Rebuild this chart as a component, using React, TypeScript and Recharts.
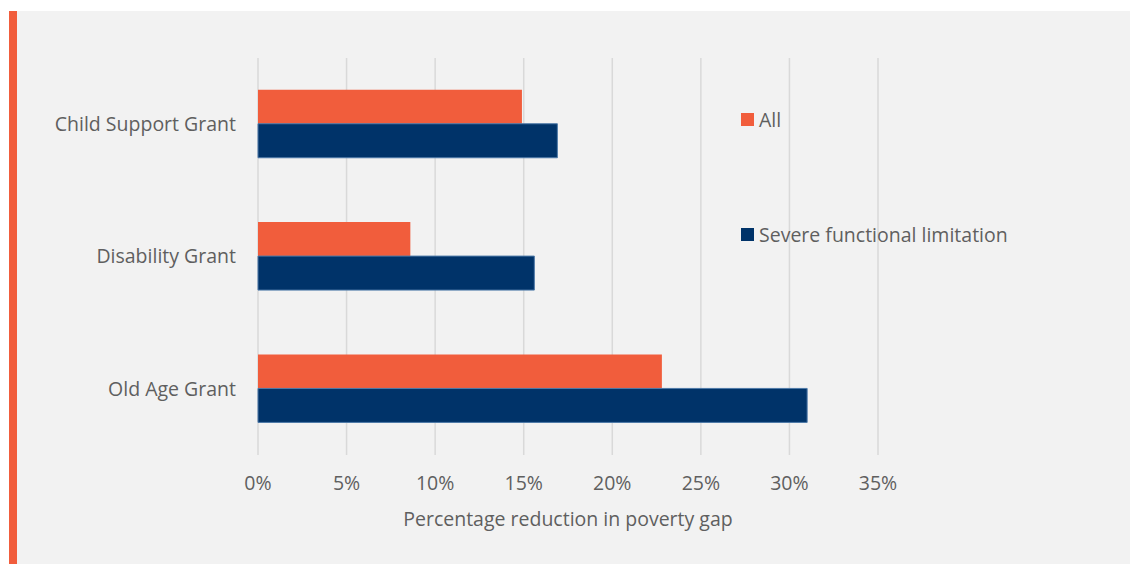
import { BarChart, Bar, XAxis, YAxis, CartesianGrid, Legend } from "recharts";

const categories = ["Child Support Grant", "Disability Grant", "Old Age Grant"];
const allValues = [14.9, 8.6, 22.8];
const severeValues = [16.9, 15.6, 31.0];
const xTicks = [0, 5, 10, 15, 20, 25, 30, 35];

const ORANGE = "#F15D3C";
const NAVY = "#003369";
const TEXT = "#5f5f5f";
const FONT = "'Open Sans', sans-serif";
const FONT_SIZE = 19.5;

const chartData = categories.map((name, i) => ({
  name,
  all: allValues[i],
  severe: severeValues[i],
}));

const legendItems = [
  { label: "All", color: ORANGE },
  { label: "Severe functional limitation", color: NAVY },
];

function ChartLegend() {
  return (
    <div style={{ fontFamily: FONT, fontSize: FONT_SIZE, color: TEXT }}>
      {legendItems.map((item, i) => (
        <div
          key={item.label}
          style={{
            display: "flex",
            alignItems: "center",
            height: 24,
            marginTop: i === 0 ? 0 : 91,
          }}
        >
          <span
            style={{
              display: "inline-block",
              width: 13,
              height: 13,
              background: item.color,
              marginRight: 5,
            }}
          />
          <span>{item.label}</span>
        </div>
      ))}
    </div>
  );
}

export default function App() {
  return (
    <div
      style={{
        position: "absolute",
        left: 0,
        top: 0,
        width: 1130,
        height: 564,
        background: "#ffffff",
        overflow: "hidden",
      }}
    >
      <div
        style={{
          position: "absolute",
          left: 9,
          top: 11,
          width: 8,
          height: 553,
          background: ORANGE,
        }}
      />
      <div
        style={{
          position: "absolute",
          left: 17,
          top: 11,
          width: 1113,
          height: 553,
          background: "#f2f2f2",
        }}
      />
      <div style={{ position: "absolute", left: 0, top: 0 }}>
        <BarChart
          width={1130}
          height={564}
          data={chartData}
          layout="vertical"
          margin={{ top: 58, right: 252, bottom: 29, left: 0 }}
          barCategoryGap="24%"
          barGap={0}
        >
          <CartesianGrid
            horizontal={false}
            stroke="#d9d9d9"
            strokeWidth={1.5}
          />
          <XAxis
            type="number"
            domain={[0, 35]}
            ticks={xTicks}
            tickFormatter={(v: number) => `${v}%`}
            axisLine={false}
            tickLine={false}
            tickMargin={15}
            height={80}
            tick={{ fill: TEXT, fontSize: FONT_SIZE, fontFamily: FONT }}
            label={{
              value: "Percentage reduction in poverty gap",
              position: "insideBottom",
              offset: 9,
              fill: TEXT,
              fontSize: FONT_SIZE,
              fontFamily: FONT,
            }}
          />
          <YAxis
            type="category"
            dataKey="name"
            width={258}
            axisLine={false}
            tickLine={false}
            tickMargin={16}
            tick={{ fill: TEXT, fontSize: FONT_SIZE, fontFamily: FONT }}
          />
          <Legend
            layout="vertical"
            align="center"
            verticalAlign="middle"
            content={<ChartLegend />}
            wrapperStyle={{ left: 741, top: 107, width: 340 }}
          />
          <Bar
            dataKey="all"
            name="All"
            fill={ORANGE}
            isAnimationActive={false}
          />
          <Bar
            dataKey="severe"
            name="Severe functional limitation"
            fill={NAVY}
            stroke="#4d79a8"
            strokeWidth={1}
            isAnimationActive={false}
          />
        </BarChart>
      </div>
    </div>
  );
}
